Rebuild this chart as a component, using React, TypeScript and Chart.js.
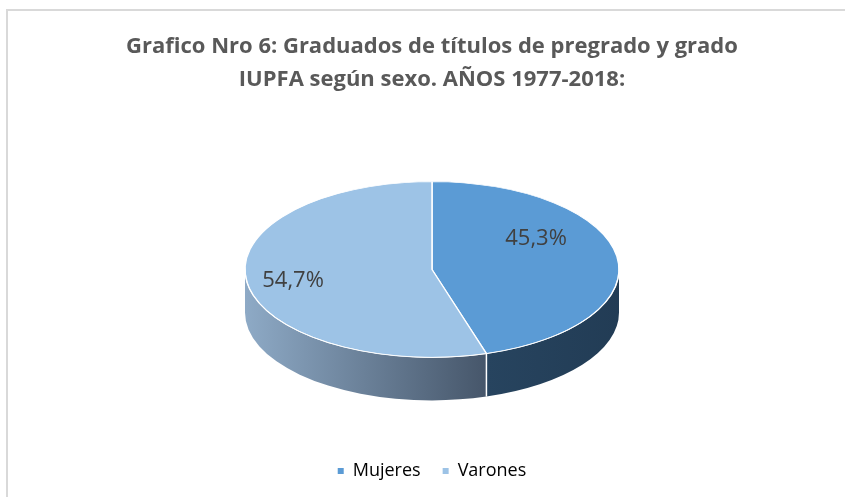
import React, { useEffect, useRef } from "react";
import { Chart, registerables } from "chart.js";

Chart.register(...registerables);

// ---- data ----
const categories = ["Mujeres", "Varones"];
const shares = [45.3, 54.7];
const valueLabels = ["45,3%", "54,7%"];
const titleLines = [
  "Grafico Nro 6: Graduados de títulos de pregrado y grado",
  "IUPFA según sexo. AÑOS 1977-2018:",
];

// ---- style ----
const topColors = ["#5b9bd5", "#9dc3e6"];
const sideStops = [
  ["#27445f", "#223c55"],
  ["#8eaac6", "#46566a"],
];
const FONT = "'Open Sans', 'Noto Sans', sans-serif";
const RADIUS = 187;
const TILT = 0.47;
const CENTER_Y = 269.5;
const DEPTH = 43;
const labelShift = [-0.42, -0.03];
const labelRadius = [0.66, 0.755];

const pie3d = {
  id: "pie3d",
  beforeDatasetsDraw(chart: any) {
    const ctx = chart.ctx as CanvasRenderingContext2D;
    const arcs = chart.getDatasetMeta(0).data as any[];
    if (!arcs.length) return;
    const cx = arcs[0].x;
    const cyCircle = arcs[0].y;
    const R = arcs[0].outerRadius;
    const ry = R * TILT;
    const cy = CENTER_Y;
    arcs.forEach((arc, i) => {
      const s = arc.startAngle;
      const e = arc.endAngle;
      for (const off of [-2 * Math.PI, 0, 2 * Math.PI]) {
        const a = Math.max(s, off);
        const b = Math.min(e, off + Math.PI);
        if (b <= a) continue;
        const xa = cx + R * Math.cos(a);
        const xb = cx + R * Math.cos(b);
        const g = ctx.createLinearGradient(Math.min(xa, xb), 0, Math.max(xa, xb), 0);
        g.addColorStop(0, sideStops[i][0]);
        g.addColorStop(1, sideStops[i][1]);
        ctx.save();
        ctx.beginPath();
        ctx.ellipse(cx, cy, R, ry, 0, a, b);
        ctx.ellipse(cx, cy + DEPTH, R, ry, 0, b, a, true);
        ctx.closePath();
        ctx.fillStyle = g;
        ctx.fill();
        ctx.restore();
      }
    });
    arcs.forEach((arc) => {
      const t = ((arc.startAngle % (2 * Math.PI)) + 2 * Math.PI) % (2 * Math.PI);
      if (t > 0.01 && t < Math.PI - 0.01) {
        const x = cx + R * Math.cos(t);
        const y = cy + ry * Math.sin(t);
        ctx.save();
        ctx.strokeStyle = "#ffffff";
        ctx.lineWidth = 1.5;
        ctx.beginPath();
        ctx.moveTo(x, y);
        ctx.lineTo(x, y + DEPTH);
        ctx.stroke();
        ctx.restore();
      }
    });
    ctx.save();
    ctx.translate(cx, cy);
    ctx.scale(1, TILT);
    ctx.translate(-cx, -cyCircle);
  },
  afterDatasetsDraw(chart: any) {
    const ctx = chart.ctx as CanvasRenderingContext2D;
    ctx.restore();
    const arcs = chart.getDatasetMeta(0).data as any[];
    if (!arcs.length) return;
    const cx = arcs[0].x;
    const R = arcs[0].outerRadius;
    const ry = R * TILT;
    const cy = CENTER_Y;
    ctx.save();
    ctx.strokeStyle = "rgba(255,255,255,0.85)";
    ctx.lineWidth = 1;
    ctx.beginPath();
    ctx.ellipse(cx, cy, R, ry, 0, 0, Math.PI);
    ctx.stroke();
    ctx.restore();
    ctx.save();
    ctx.font = `22px ${FONT}`;
    ctx.fillStyle = "#404040";
    ctx.textAlign = "center";
    ctx.textBaseline = "middle";
    arcs.forEach((arc, i) => {
      const mid = (arc.startAngle + arc.endAngle) / 2 + labelShift[i];
      const r = labelRadius[i] * R;
      ctx.fillText(valueLabels[i], cx + r * Math.cos(mid), cy + r * TILT * Math.sin(mid));
    });
    ctx.restore();
  },
};

export default function App() {
  const ref = useRef<HTMLCanvasElement>(null);
  useEffect(() => {
    if (!ref.current) return;
    const chart = new Chart(ref.current, {
      type: "pie",
      data: {
        labels: categories,
        datasets: [
          {
            data: shares,
            backgroundColor: topColors,
            borderColor: "#ffffff",
            borderWidth: 1.5,
            radius: RADIUS,
          } as any,
        ],
      },
      options: {
        animation: false,
        responsive: false,
        events: [],
        layout: { padding: { left: 19, bottom: 7 } },
        plugins: {
          tooltip: { enabled: false },
          title: {
            display: true,
            text: titleLines,
            color: "#595959",
            font: { family: FONT, size: 22, weight: "bold", lineHeight: 1.5 },
            padding: { top: 30, bottom: 10 },
          },
          legend: {
            position: "bottom",
            labels: {
              color: "#595959",
              font: { family: FONT, size: 18 },
              boxWidth: 6,
              boxHeight: 6,
              padding: 22,
              generateLabels: () =>
                categories.map((name, i) => ({
                  text: name,
                  fillStyle: topColors[i],
                  strokeStyle: topColors[i],
                  lineWidth: 0,
                  hidden: false,
                  index: i,
                  datasetIndex: 0,
                })),
            },
          },
        },
      },
      plugins: [pie3d],
    });
    return () => chart.destroy();
  }, []);
  return (
    <div style={{ position: "absolute", left: 0, top: 0, width: 845, height: 497, overflow: "hidden", background: "#ffffff" }}>
      <div
        style={{
          position: "absolute",
          left: 6,
          top: 9,
          width: 900,
          height: 600,
          border: "2px solid #d9d9d9",
        }}
      />
      <canvas ref={ref} width={845} height={497} style={{ position: "absolute", left: 0, top: 0 }} />
    </div>
  );
}
